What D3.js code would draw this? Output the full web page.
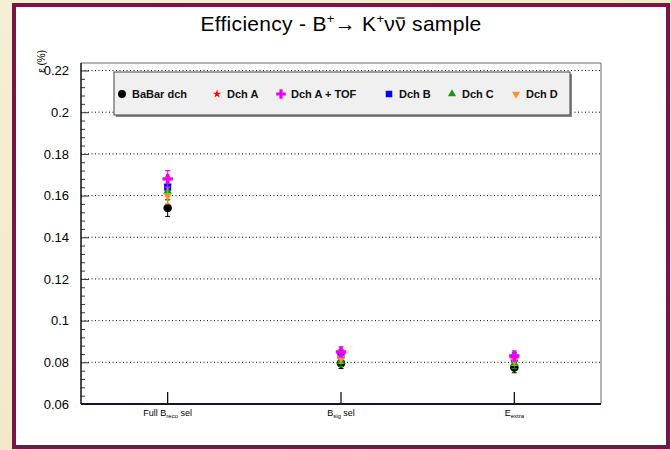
<!DOCTYPE html>
<html>
<head>
<meta charset="utf-8">
<script src="https://cdn.jsdelivr.net/npm/d3@7"></script>
<style>
  html, body { margin: 0; padding: 0; background: #f4ebcf; }
  svg { display: block; font-family: "Liberation Sans", Arial, sans-serif; }
</style>
</head>
<body>
<div id="chart"></div>
<script>
// categories (x bins)
const steps = ["full", "sig", "extra"];
const series = ["BaBar dch", "Dch A", "Dch A + TOF", "Dch B", "Dch C", "Dch D"];

// efficiency values per series, one per step
const babar = [0.1540, 0.0795, 0.0775];
const dchA = [0.1650, 0.0835, 0.0820];
const dchATof = [0.1680, 0.0850, 0.0830];
const dchB = [0.1640, 0.0835, 0.0820];
const dchC = [0.1620, 0.0805, 0.0795];
const dchD = [0.1600, 0.0820, 0.0810];
const errs = [0.0040, 0.0025, 0.0025];

const yMajor = [0.06, 0.08, 0.1, 0.12, 0.14, 0.16, 0.18, 0.2, 0.22];
const yLabels = ["0.06", "0.08", "0.1", "0.12", "0.14", "0.16", "0.18", "0.2", "0.22"];

const W = 671, H = 450;
const margins = { top: 63, right: 70, bottom: 46, left: 81 };

const svg = d3.select("#chart").append("svg")
  .attr("width", W).attr("height", H)
  .attr("viewBox", [0, 0, W, H]);

// parchment + maroon frame
const defs = svg.append("defs");
const grad = defs.append("linearGradient").attr("id", "parch")
  .attr("x1", 0).attr("y1", 0).attr("x2", 1).attr("y2", 1);
grad.append("stop").attr("offset", 0).attr("stop-color", "#f6eed6");
grad.append("stop").attr("offset", 1).attr("stop-color", "#efe2bd");
svg.append("rect").attr("width", W).attr("height", H).attr("fill", "url(#parch)");
svg.append("rect")
  .attr("x", 14).attr("y", 5).attr("width", 654).attr("height", 442)
  .attr("fill", "#fff").attr("stroke", "#7b1446").attr("stroke-width", 4);

const x = d3.scaleBand().domain(steps)
  .range([margins.left, W - margins.right]).padding(0);
const y = d3.scaleLinear().domain([0.06, 0.2236])
  .range([H - margins.bottom, margins.top]);
const cx = d => x(d) + x.bandwidth() / 2;

const x0 = margins.left, x1 = W - margins.right;
const y0 = H - margins.bottom, y1 = margins.top;

// title
const title = svg.append("text")
  .attr("x", 341).attr("y", 31).attr("text-anchor", "middle")
  .attr("font-size", 21).attr("letter-spacing", 0.3).attr("fill", "#000");
title.append("tspan").text("Efficiency - B");
title.append("tspan").attr("font-size", 13).attr("dy", -8).text("+");
title.append("tspan").attr("dy", 8).text("\u2192 K");
title.append("tspan").attr("font-size", 13).attr("dy", -8).text("+");
title.append("tspan").attr("dy", 8).text("\u03bd\u03bd sample");
// bar over the second nu
{
  const txt = title.node();
  const idx = txt.textContent.lastIndexOf("\u03bd");
  const box = txt.getExtentOfChar(idx);
  svg.append("line")
    .attr("x1", box.x + 1.5).attr("x2", box.x + box.width - 1.5)
    .attr("y1", box.y + 6).attr("y2", box.y + 6)
    .attr("stroke", "#000").attr("stroke-width", 1.3);
}

// grid lines (dotted, horizontal)
svg.append("g").selectAll("line").data(yMajor.slice(1)).join("line")
  .attr("x1", x0).attr("x2", x1)
  .attr("y1", d => y(d)).attr("y2", d => y(d))
  .attr("stroke", "#000").attr("stroke-width", 1)
  .attr("stroke-dasharray", "1,2.5");

// frame top/right
svg.append("path")
  .attr("d", `M${x0},${y1}H${x1}V${y0}`)
  .attr("fill", "none").attr("stroke", "#666").attr("stroke-width", 1);

// y axis
const minor = d3.range(0.06, 0.2237, 0.004).filter(v => Math.abs((v - 0.06) / 0.02 - Math.round((v - 0.06) / 0.02)) > 1e-6);
const yMinorAxis = svg.append("g").attr("transform", `translate(${x0},0)`)
  .call(d3.axisLeft(y).tickValues(minor).tickSize(-4).tickFormat(""));
yMinorAxis.select(".domain").remove();
yMinorAxis.selectAll("line").attr("stroke", "#333");

const yAxis = svg.append("g").attr("transform", `translate(${x0},0)`)
  .call(d3.axisLeft(y).tickValues(yMajor).tickSize(-8).tickPadding(12)
    .tickFormat((d, i) => yLabels[i]));
yAxis.select(".domain").remove();
yAxis.selectAll("line").attr("stroke", "#333");
yAxis.selectAll("text").attr("font-size", 13).attr("fill", "#000")
  .attr("font-family", "Liberation Sans, Arial, sans-serif");
svg.append("line").attr("x1", x0).attr("x2", x0).attr("y1", y1).attr("y2", y0)
  .attr("stroke", "#111").attr("stroke-width", 1.5);

// y title
svg.append("text")
  .attr("transform", `translate(45,${y1 - 13}) rotate(-90)`)
  .attr("text-anchor", "end").attr("font-size", 10).attr("fill", "#000")
  .text("\u03b5 (%)");

// x axis
const xAxis = svg.append("g").attr("transform", `translate(0,${y0})`)
  .call(d3.axisBottom(x).tickSize(-12).tickFormat(""));
xAxis.select(".domain").remove();
xAxis.selectAll(".tick line").attr("stroke", "#000").attr("stroke-width", 1.2);
svg.append("line").attr("x1", x0).attr("x2", x1).attr("y1", y0).attr("y2", y0)
  .attr("stroke", "#141432").attr("stroke-width", 2);

const xLabelParts = {
  full: ["Full B", "reco", " sel"],
  sig: ["B", "sig", " sel"],
  extra: ["E", "extra", ""]
};
steps.forEach(s => {
  const p = xLabelParts[s];
  const t = svg.append("text").attr("x", cx(s)).attr("y", y0 + 12)
    .attr("text-anchor", "middle").attr("font-size", 9).attr("fill", "#000");
  t.append("tspan").text(p[0]);
  t.append("tspan").attr("font-size", 6).attr("dy", 2).text(p[1]);
  if (p[2]) t.append("tspan").attr("dy", -2).text(p[2]);
});

// marker definitions
const styles = [
  { color: "#000000", sym: d3.symbolCircle, size: 58, rot: 0 },
  { color: "#ff0000", sym: d3.symbolStar, size: 26, rot: 0 },
  { color: "#ee00ee", sym: d3.symbolCross, size: 60, rot: 0 },
  { color: "#0000ff", sym: d3.symbolSquare, size: 50, rot: 0 },
  { color: "#129a12", sym: d3.symbolTriangle, size: 34, rot: 0 },
  { color: "#f7932e", sym: d3.symbolTriangle, size: 34, rot: 180 }
];
const allValues = [babar, dchA, dchATof, dchB, dchC, dchD];

const drawOrder = [0, 1, 3, 4, 5, 2];
drawOrder.forEach(si => {
  const st = styles[si];
  const data = steps.map((s, i) => ({ s, v: allValues[si][i], e: errs[i] }));
  const g = svg.append("g");
  g.selectAll("line.err").data(data).join("line").attr("class", "err")
    .attr("x1", d => cx(d.s)).attr("x2", d => cx(d.s))
    .attr("y1", d => y(d.v - d.e)).attr("y2", d => y(d.v + d.e))
    .attr("stroke", st.color).attr("stroke-width", 1);
  [-1, 1].forEach(sg => {
    g.selectAll(`line.cap${sg}`).data(data).join("line").attr("class", `cap${sg}`)
      .attr("x1", d => cx(d.s) - 2.5).attr("x2", d => cx(d.s) + 2.5)
      .attr("y1", d => y(d.v + sg * d.e)).attr("y2", d => y(d.v + sg * d.e))
      .attr("stroke", st.color).attr("stroke-width", 1);
  });
  g.selectAll("path").data(data).join("path")
    .attr("transform", d => `translate(${cx(d.s)},${y(d.v)}) rotate(${st.rot})`)
    .attr("d", d3.symbol(st.sym, st.size))
    .attr("fill", st.color);
});

// legend
const lg = svg.append("g");
lg.append("rect").attr("x", 116).attr("y", 74).attr("width", 456).attr("height", 43)
  .attr("fill", "#8a8a8a");
lg.append("rect").attr("x", 114).attr("y", 72).attr("width", 456).attr("height", 43)
  .attr("fill", "#f0f0f0").attr("stroke", "#444").attr("stroke-width", 1);
const legendX = [122, 217, 281, 389, 452, 516];
series.forEach((name, i) => {
  const st = styles[i];
  lg.append("path")
    .attr("transform", `translate(${legendX[i]},94) rotate(${st.rot})`)
    .attr("d", d3.symbol(st.sym, st.size * 0.85))
    .attr("fill", st.color);
  lg.append("text").attr("x", legendX[i] + 10).attr("y", 98)
    .attr("font-size", 11).attr("font-weight", "bold").attr("fill", "#111")
    .text(name);
});
</script>
</body>
</html>
